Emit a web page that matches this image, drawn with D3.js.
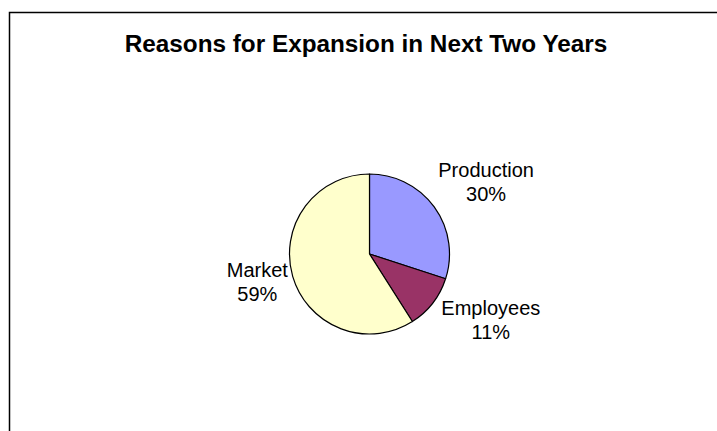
<!DOCTYPE html>
<html>
<head>
<meta charset="utf-8">
<script src="https://cdn.jsdelivr.net/npm/d3@7"></script>
<style>
  body { margin: 0; background: #fff; }
  text { font-family: "Liberation Sans", Arial, sans-serif; fill: #000; }
</style>
</head>
<body>
<div id="chart"></div>
<script>
// chart data
const categories = ["Production", "Employees", "Market"];
const shares = [30, 11, 59];
const sliceColors = ["#9999FF", "#993366", "#FFFFCC"];
const title = "Reasons for Expansion in Next Two Years";

const width = 717, height = 431;
const cx = 369.5, cy = 254, radius = 80;

const svg = d3.select("#chart")
  .append("svg")
  .attr("width", width)
  .attr("height", height);

// chart area border (runs off right and bottom edge)
svg.append("rect")
  .attr("x", 9.5)
  .attr("y", 12.5)
  .attr("width", width + 20)
  .attr("height", height + 20)
  .attr("fill", "#fff")
  .attr("stroke", "#000")
  .attr("stroke-width", 1.5);

svg.append("text")
  .attr("x", 366)
  .attr("y", 52)
  .attr("text-anchor", "middle")
  .attr("font-size", "24.3px")
  .attr("font-weight", "bold")
  .text(title);

const pie = d3.pie().sort(null).value(d => d);
const arcs = pie(shares);
const arc = d3.arc().innerRadius(0).outerRadius(radius);

const g = svg.append("g").attr("transform", `translate(${cx},${cy})`);

g.selectAll("path")
  .data(arcs)
  .enter()
  .append("path")
    .attr("d", arc)
    .attr("fill", (d, i) => sliceColors[i])
    .attr("stroke", "#000")
    .attr("stroke-width", 1.2)
    .attr("stroke-linejoin", "round");

// labels outside the pie, pushed out by half their width
const labels = g.selectAll(".lbl")
  .data(arcs)
  .enter()
  .append("text")
    .attr("class", "lbl")
    .attr("font-size", "20px")
    .attr("text-anchor", "middle");

labels.append("tspan").attr("class", "l1").text((d, i) => categories[i]);
labels.append("tspan").attr("class", "l2").text(d => d.value + "%");

labels.each(function(d) {
  const t = d3.select(this);
  // widest line of the two
  const w = d3.max(t.selectAll("tspan").nodes(), n => n.getComputedTextLength());
  const mid = (d.startAngle + d.endAngle) / 2;
  const dx = Math.sin(mid), dy = -Math.cos(mid);
  // lower labels sit a bit further out so their top corner clears the pie
  const x = dx * (radius + 5) + Math.sign(dx) * (w / 2 + Math.max(0, dy - 0.3) * 15);
  const y = dy * (radius + 10) + dy * 25;
  t.select(".l1").attr("x", x).attr("y", y - 9);
  t.select(".l2").attr("x", x).attr("y", y + 15);
});
</script>
</body>
</html>
